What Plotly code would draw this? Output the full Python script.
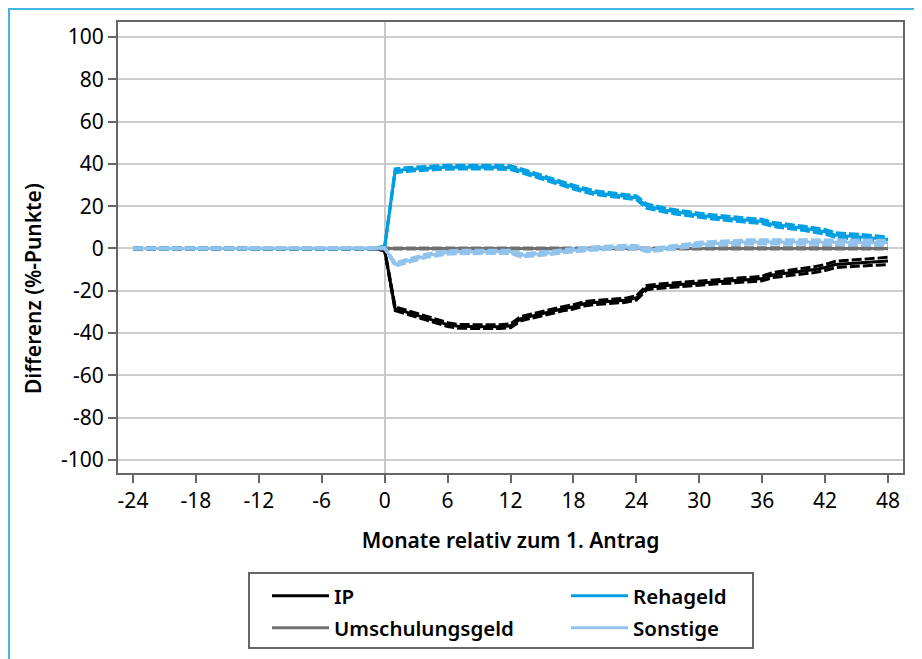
import plotly.graph_objects as go

months = list(range(-24, 49))

ip = [
    0.0, 0.0, 0.0, 0.0, 0.0, 0.0, 0.0, 0.0, 0.0, 0.0, 0.0, 0.0,
    0.0, 0.0, 0.0, 0.0, 0.0, 0.0, 0.0, 0.0, 0.0, 0.0, 0.0, 0.0,
    -0.8, -28.5, -30.0, -31.5, -33.0, -34.7, -36.0, -36.8, -37.0, -37.0, -37.0, -37.0,
    -36.6, -33.2, -32.0, -30.8, -29.6, -28.5, -27.6, -26.2, -25.6, -25.3, -25.0, -24.5,
    -23.4, -18.5, -17.9, -17.5, -17.0, -16.6, -16.3, -16.0, -15.6, -15.3, -15.0, -14.7,
    -14.2, -12.6, -12.0, -11.4, -10.6, -10.0, -9.0, -7.6, -7.2, -6.9, -6.6, -6.3,
    -5.9,
]
ip_ci = [
    0.3, 0.3, 0.3, 0.3, 0.3, 0.3, 0.3, 0.3, 0.3, 0.3, 0.3, 0.3,
    0.3, 0.3, 0.3, 0.3, 0.3, 0.3, 0.3, 0.3, 0.3, 0.3, 0.3, 0.3,
    0.3, 0.9, 0.9, 0.9, 0.9, 0.9, 0.9, 0.9, 0.9, 0.9, 0.9, 0.9,
    0.9, 1.0, 1.0, 1.0, 1.0, 1.0, 1.0, 1.0, 1.0, 1.0, 1.0, 1.0,
    1.0, 1.0, 1.0, 1.0, 1.0, 1.0, 1.0, 1.0, 1.0, 1.1, 1.1, 1.1,
    1.1, 1.2, 1.2, 1.3, 1.3, 1.4, 1.4, 1.5, 1.5, 1.6, 1.6, 1.7,
    1.7,
]

umschulung = [
    0.0, 0.0, 0.0, 0.0, 0.0, 0.0, 0.0, 0.0, 0.0, 0.0, 0.0, 0.0,
    0.0, 0.0, 0.0, 0.0, 0.0, 0.0, 0.0, 0.0, 0.0, 0.0, 0.0, 0.0,
    0.0, 0.1, 0.1, 0.1, 0.1, 0.1, 0.1, 0.1, 0.1, 0.1, 0.1, 0.1,
    0.1, 0.1, 0.1, 0.1, 0.1, 0.1, 0.1, 0.1, 0.1, 0.1, 0.1, 0.1,
    0.1, 0.0, 0.0, 0.0, 0.0, 0.0, 0.0, 0.0, 0.0, 0.0, 0.0, 0.0,
    0.0, 0.0, 0.0, 0.0, 0.0, 0.0, 0.0, 0.0, 0.0, 0.0, 0.0, 0.0,
    0.0,
]
umschulung_ci = [
    0.2, 0.2, 0.2, 0.2, 0.2, 0.2, 0.2, 0.2, 0.2, 0.2, 0.2, 0.2,
    0.2, 0.2, 0.2, 0.2, 0.2, 0.2, 0.2, 0.2, 0.2, 0.2, 0.2, 0.2,
    0.2, 0.2, 0.2, 0.2, 0.2, 0.2, 0.2, 0.2, 0.2, 0.2, 0.2, 0.2,
    0.2, 0.2, 0.2, 0.2, 0.2, 0.2, 0.2, 0.2, 0.2, 0.2, 0.2, 0.2,
    0.2, 0.3, 0.3, 0.3, 0.3, 0.3, 0.3, 0.3, 0.3, 0.3, 0.3, 0.3,
    0.3, 0.3, 0.3, 0.3, 0.3, 0.3, 0.3, 0.3, 0.3, 0.3, 0.3, 0.3,
    0.3,
]

rehageld = [
    0.0, 0.0, 0.0, 0.0, 0.0, 0.0, 0.0, 0.0, 0.0, 0.0, 0.0, 0.0,
    0.0, 0.0, 0.0, 0.0, 0.0, 0.0, 0.0, 0.0, 0.0, 0.0, 0.0, 0.0,
    0.8, 36.7, 37.3, 37.7, 38.0, 38.2, 38.4, 38.5, 38.5, 38.5, 38.5, 38.4,
    38.2, 36.8, 35.3, 33.9, 32.3, 30.6, 29.0, 27.6, 26.4, 25.8, 25.2, 24.8,
    24.0, 20.0, 18.8, 17.9, 17.1, 16.3, 15.7, 15.1, 14.5, 14.0, 13.6, 13.2,
    12.8, 11.4, 10.6, 10.1, 9.5, 8.8, 7.9, 6.3, 6.0, 5.7, 5.2, 4.7,
    4.2,
]
rehageld_ci = [
    0.3, 0.3, 0.3, 0.3, 0.3, 0.3, 0.3, 0.3, 0.3, 0.3, 0.3, 0.3,
    0.3, 0.3, 0.3, 0.3, 0.3, 0.3, 0.3, 0.3, 0.3, 0.3, 0.3, 0.3,
    0.3, 0.9, 0.9, 0.9, 0.9, 0.9, 0.9, 0.9, 0.9, 0.9, 0.9, 0.9,
    0.9, 0.9, 0.9, 0.9, 0.9, 0.9, 0.9, 0.9, 0.9, 0.9, 0.9, 0.9,
    0.9, 1.0, 1.0, 1.0, 1.0, 1.0, 1.0, 1.0, 1.0, 1.0, 1.0, 1.0,
    1.0, 1.0, 1.0, 1.0, 1.0, 1.1, 1.1, 1.1, 1.1, 1.2, 1.2, 1.2,
    1.2,
]

sonstige = [
    0.0, 0.0, 0.0, 0.0, 0.0, 0.0, 0.0, 0.0, 0.0, 0.0, 0.0, 0.0,
    0.0, 0.0, 0.0, 0.0, 0.0, 0.0, 0.0, 0.0, 0.0, 0.0, 0.0, 0.0,
    0.2, -7.5, -6.3, -4.8, -3.4, -2.5, -1.9, -1.7, -1.6, -1.6, -1.6, -1.6,
    -1.6, -3.2, -2.9, -2.5, -2.0, -1.3, -0.8, -0.4, 0.0, 0.3, 0.6, 0.7,
    0.6, -0.8, -0.4, 0.3, 0.9, 1.5, 2.0, 2.3, 2.6, 2.8, 3.0, 3.1,
    3.1, 3.1, 3.1, 3.2, 3.2, 3.1, 3.0, 2.9, 2.9, 2.8, 2.8, 2.7,
    2.7,
]
sonstige_ci = [
    0.3, 0.3, 0.3, 0.3, 0.3, 0.3, 0.3, 0.3, 0.3, 0.3, 0.3, 0.3,
    0.3, 0.3, 0.3, 0.3, 0.3, 0.3, 0.3, 0.3, 0.3, 0.3, 0.3, 0.3,
    0.3, 0.8, 0.8, 0.8, 0.8, 0.8, 0.8, 0.8, 0.8, 0.8, 0.8, 0.8,
    0.8, 0.8, 0.8, 0.8, 0.8, 0.8, 0.8, 0.8, 0.8, 0.8, 0.8, 0.8,
    0.8, 0.8, 0.8, 0.8, 0.8, 0.9, 0.9, 0.9, 0.9, 1.0, 1.0, 1.0,
    1.0, 1.0, 1.0, 1.1, 1.1, 1.1, 1.1, 1.2, 1.2, 1.2, 1.2, 1.2,
    1.2,
]

x_ticks = [-24, -18, -12, -6, 0, 6, 12, 18, 24, 30, 36, 42, 48]
x_labels = ["-24", "-18", "-12", "-6", "0", "6", "12", "18", "24", "30", "36", "42", "48"]
y_ticks = [-100, -80, -60, -40, -20, 0, 20, 40, 60, 80, 100]
y_labels = ["-100", "-80", "-60", "-40", "-20", "0", "20", "40", "60", "80", "100"]

series = [
    ("IP", ip, ip_ci, "#000000", "legend"),
    ("Umschulungsgeld", umschulung, umschulung_ci, "#707070", "legend2"),
    ("Rehageld", rehageld, rehageld_ci, "#009FE3", "legend3"),
    ("Sonstige", sonstige, sonstige_ci, "#92C3EC", "legend4"),
]

FONT = "Noto Sans"
fig = go.Figure()
for name, vals, ci, color, leg in series:
    lo = [v - c for v, c in zip(vals, ci)]
    hi = [v + c for v, c in zip(vals, ci)]
    for band in (lo, hi):
        fig.add_trace(go.Scatter(x=months, y=band, mode="lines", showlegend=False,
                                 hoverinfo="skip",
                                 line=dict(color=color, width=3, dash="10px,3px")))
    fig.add_trace(go.Scatter(x=months, y=vals, mode="lines", name=name, legend=leg,
                             line=dict(color=color, width=3)))

# the page body adds an 8px offset, so the figure is 8px smaller and shifted
OFF = 8
W, H = 922 - OFF, 659 - OFF
L, T = 118 - OFF, 22 - OFF
R = W - (903 - OFF)
B = H - (473 - OFF)
pw, ph = W - L - R, H - T - B

def px(xs):
    return (xs - OFF - L) / pw

def py(ys):
    return (H - B - (ys - OFF)) / ph

legend_common = dict(bgcolor="rgba(0,0,0,0)", borderwidth=0, xanchor="left", yanchor="middle",
                     font=dict(family=FONT, size=20.5, color="#000000", weight=600),
                     itemwidth=57)
fig.update_layout(
    width=W, height=H,
    margin=dict(l=L, r=R, t=T, b=B, autoexpand=False),
    paper_bgcolor="white", plot_bgcolor="white",
    font=dict(family=FONT, size=21, color="#000000"),
    legend=dict(x=px(267), y=py(596), **legend_common),
    legend2=dict(x=px(267), y=py(628), **legend_common),
    legend3=dict(x=px(566), y=py(596), **legend_common),
    legend4=dict(x=px(566), y=py(628), **legend_common),
    xaxis=dict(range=[-25.43, 49.43], tickvals=x_ticks, ticktext=x_labels,
               ticks="outside", ticklen=8, automargin=False,
               tickwidth=2, tickcolor="#666666", showgrid=False,
               zeroline=True, zerolinecolor="#C8C8C8", zerolinewidth=2,
               showline=True, linecolor="#666666", linewidth=2, mirror=True,
               tickfont=dict(family=FONT, size=21),
               title=dict(text="Monate relativ zum 1. Antrag", standoff=20,
                          font=dict(family=FONT, size=21, weight=600))),
    yaxis=dict(range=[-106.2, 107.1], tickvals=y_ticks, ticktext=y_labels,
               ticks="outside", ticklen=8, automargin=False,
               tickwidth=2, tickcolor="#666666", showgrid=True, gridcolor="#CDCDCD",
               gridwidth=2, zeroline=False,
               showline=True, linecolor="#666666", linewidth=2, mirror=True,
               tickfont=dict(family=FONT, size=21)),
    annotations=[
        dict(text="Differenz (%-Punkte)", xref="paper", yref="paper",
             x=px(33), y=py(289), xanchor="center", yanchor="middle",
             textangle=-90, showarrow=False,
             font=dict(family=FONT, size=21, weight=600, color="#000000")),
    ],
    shapes=[
        dict(type="rect", xref="paper", yref="paper",
             x0=px(9), x1=px(919), y0=py(670), y1=py(9),
             line=dict(color="#45B4E6", width=2), fillcolor="rgba(0,0,0,0)", layer="below"),
        dict(type="rect", xref="paper", yref="paper",
             x0=px(249), x1=px(753), y0=py(648), y1=py(573),
             line=dict(color="#666666", width=2), fillcolor="rgba(0,0,0,0)"),
    ],
)
fig.write_html("out.html")
